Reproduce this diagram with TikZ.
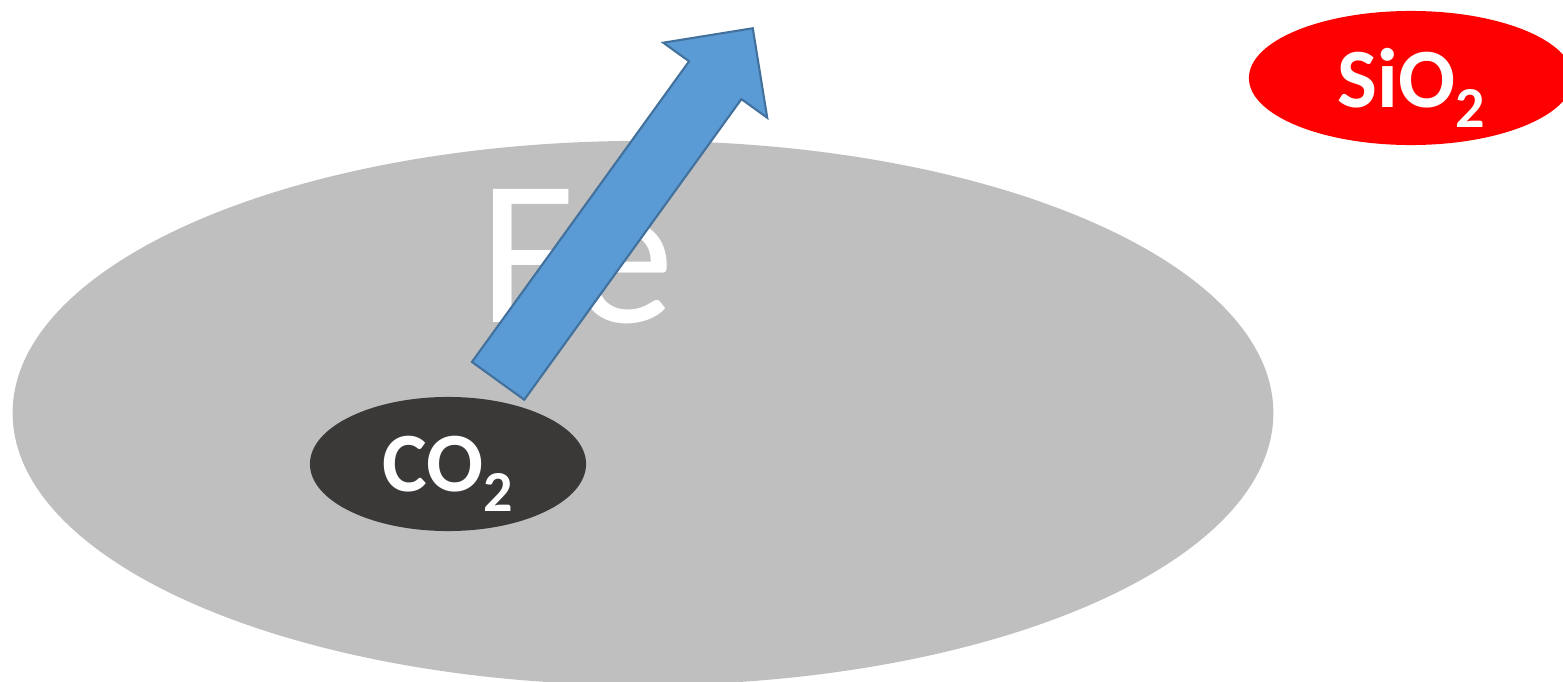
\documentclass[tikz,border=0pt]{standalone}
\usepackage{fontspec}
\setmainfont{Carlito}
\usetikzlibrary{shapes.geometric, shapes.arrows}
\definecolor{ironfill}{RGB}{191,191,191}
\definecolor{gasfill}{RGB}{59,56,56}
\definecolor{slagfill}{RGB}{255,0,0}
\definecolor{arrowfill}{RGB}{91,155,213}
\definecolor{arrowline}{RGB}{65,113,156}

\newcommand{\subtwo}{\raisebox{-0.2cm}{\fontsize{16.5}{18}\selectfont 2}}

\begin{document}
\begin{tikzpicture}[
  x=0.01cm, y=-0.01cm,
  blob/.style={ellipse, inner sep=0pt, text=white, text depth=0pt},
  bigtext/.style={text=white, inner sep=0pt, text depth=0pt,
                  font=\fontsize{59}{62}\selectfont},
  smalltext/.style={font=\bfseries\fontsize{24}{27}\selectfont},
  blockarrow/.style={single arrow, single arrow head extend=0.318cm,
                     single arrow tip angle=90, inner sep=0pt,
                     text height=0.624cm, text depth=0pt,
                     minimum height=4.347cm, fill=arrowfill,
                     draw=arrowline, line width=0.6pt}
]
\clip (0,0) rectangle (1563,682);
\useasboundingbox (0,0) rectangle (1563,682);

% melt
\node[blob, fill=ironfill, minimum width=12.6cm, minimum height=5.44cm] (iron) at (643,413) {};
\node[bigtext] (fe) at (577,256) {Fe};

% gas bubble and its way out
\node[blob, smalltext, fill=gasfill, minimum width=2.76cm, minimum height=1.34cm] (gas) at (448,464) {CO\subtwo};
\node[blockarrow, anchor=tail, rotate=54.16] (rise) at (497.5,381.7) {};

% slag
\node[blob, smalltext, fill=slagfill, minimum width=3.24cm, minimum height=1.34cm] (slag) at (1411,78) {SiO\subtwo};
\end{tikzpicture}
\end{document}
